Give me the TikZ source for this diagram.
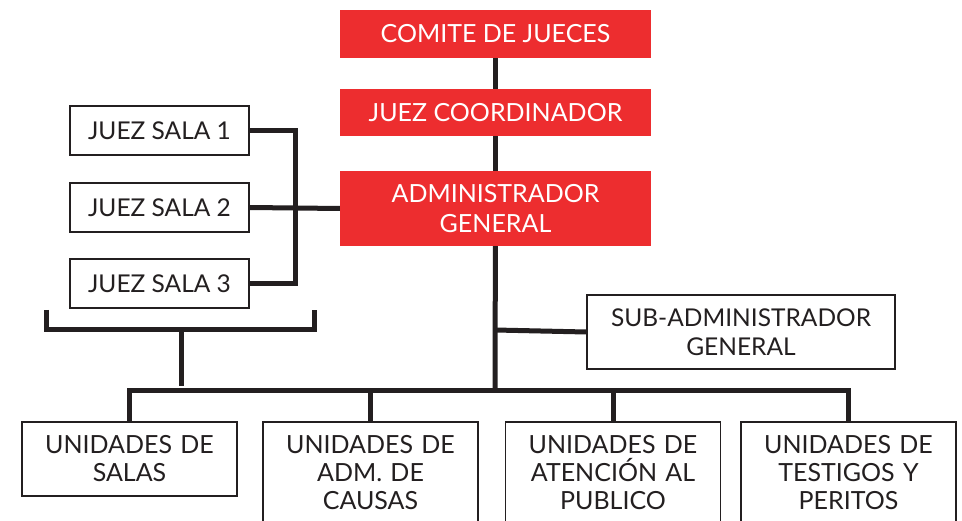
\documentclass[tikz,border=0pt]{standalone}
\usepackage{fontspec}
\setmainfont{Lato}
\usetikzlibrary{positioning}
\definecolor{jred}{HTML}{ED2D2F}
\definecolor{jink}{HTML}{231F20}

\begin{document}
\begin{tikzpicture}[x=1pt,y=-1pt,
  redbox/.style={fill=jred, text=white, minimum width=311pt, inner sep=0pt, align=center, font=\fontsize{25}{30}\selectfont},
  salabox/.style={draw=jink, line width=1.6pt, fill=white, text=jink, minimum width=179pt, minimum height=49pt, inner sep=0pt, font=\fontsize{24.5}{29}\selectfont},
  unitbox/.style={draw=jink, line width=1.6pt, fill=white, text=jink, anchor=north, minimum width=215pt, text width=205pt, inner xsep=5pt, inner ysep=14pt, align=center, font=\fontsize{25}{28}\selectfont},
  link/.style={draw=jink, line width=5pt}]
\useasboundingbox (0,0) rectangle (962,521);
\clip (0,0) rectangle (962,521);

% red column
\node[redbox, minimum height=48pt] (comite) at (495.5,34) {COMITE DE JUECES};
\node[redbox, minimum height=47pt] (coord) at (495.5,112.5) {JUEZ COORDINADOR};
\node[redbox, minimum height=75pt] (admin) at (495.5,208.5) {ADMINISTRADOR\\GENERAL};

% salas
\node[salabox] (sala1) at (159.5,130.5) {JUEZ SALA 1};
\node[salabox] (sala2) at (159.5,207.5) {JUEZ SALA 2};
\node[salabox] (sala3) at (159.5,283.5) {JUEZ SALA 3};

\node[salabox, minimum width=308pt, minimum height=74pt, align=center] (sub) at (741,332) {SUB-ADMINISTRADOR\\GENERAL};

% unidades
\node[unitbox, minimum height=74pt] (u1) at (129.5,421) {UNIDADES DE\\SALAS};
\node[unitbox] (u2) at (370.5,421) {UNIDADES DE\\ADM. DE\\CAUSAS};
\node[unitbox] (u3) at (613,421) {UNIDADES DE\\ATENCIÓN AL\\PUBLICO};
\node[unitbox] (u4) at (848.5,421) {UNIDADES DE\\TESTIGOS Y\\PERITOS};

\coordinate (bus) at (495,391);
\coordinate (subjoin) at (495,330);
\coordinate (brL) at (46,310);
\coordinate (brR) at (314,310);
\coordinate (brMid) at (181,330);
\coordinate (brEnd) at (181,386);

\draw[link] (comite) -- (coord);
\draw[link] (coord) -- (admin);
\draw[link] (admin) -- (bus);
\draw[link] (subjoin) -- (sub.west);
\draw[link] (sala1.east) -- ++(46,0) |- (sala3.east);
\draw[link] (sala2.east) -- (admin.west);
\draw[link] (brL) |- (brMid) -| (brR);
\draw[link] (brMid) -- (brEnd);
\draw[link] (u1.north) |- (bus) -| (u4.north);
\draw[link] (u2.north) -- (u2.north |- bus);
\draw[link] (u3.north) -- (u3.north |- bus);
\end{tikzpicture}
\end{document}
